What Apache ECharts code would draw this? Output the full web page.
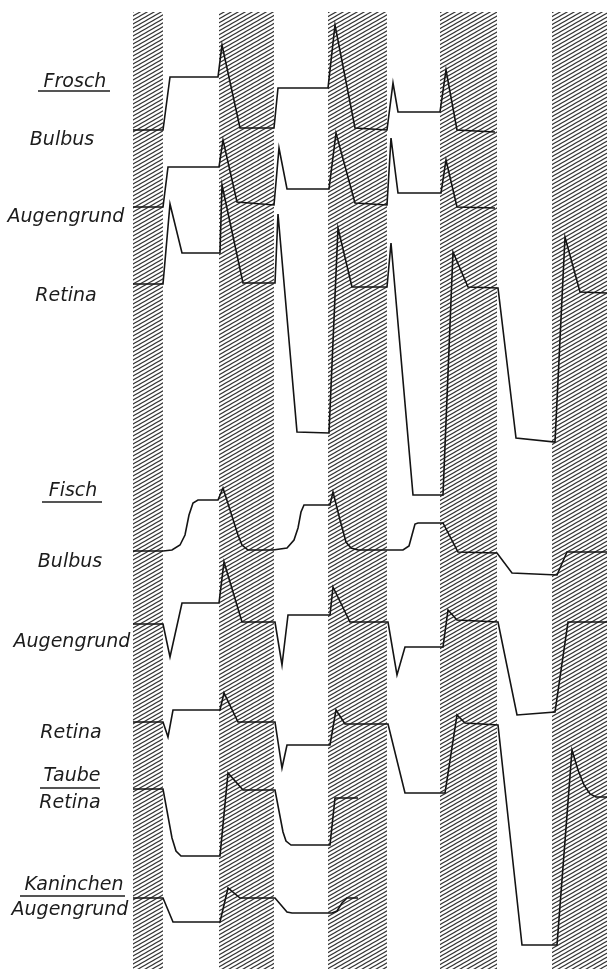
<!DOCTYPE html>
<html><head><meta charset="utf-8">
<script src="https://cdn.jsdelivr.net/npm/echarts@6/dist/echarts.min.js"></script>
<style>html,body{margin:0;padding:0;background:#fff}#c{width:607px;height:969px}</style>
</head><body><div id="c"></div>
<script>
// Light-stimulus (hatched) intervals along the time axis
const bands = [[133,163],[219,274],[328,387],[440,497],[552,607]];
const bandSpan = [12, 969];

// Traces: [time, deflection] (deflection axis points downward)
const froschBulbus = [[133,130],[163,130],[170,77],[218,77],[222,45],[240,128],[274,128],[278,88],[328,88],[335,25],[355,128],[387,130],[393,83],[398,112],[440,112],[446,70],[457,130],[495,132]];
const froschAugengrund = [[133,207],[163,207],[168,167],[219,167],[223,140],[237,202],[274,205],[279,148],[287,189],[329,189],[336,133],[355,203],[387,205],[391,138],[398,193],[441,193],[446,160],[457,207],[495,208]];
const froschRetina = [[133,284],[163,284],[170,204],[182,253],[220,253],[222,185],[243,283],[275,283],[278,214],[297,432],[329,433],[338,228],[352,287],[387,287],[391,243],[413,495],[443,495],[453,252],[468,287],[498,288],[516,438],[555,442],[565,237],[580,292],[607,293]];
const fischBulbus = [[133,551],[163,551],[172,550],[180,545],[185,535],[189,515],[193,503],[198,500],[218,500],[223,488],[238,535],[242,545],[248,550],[273,550],[287,548],[294,540],[298,528],[301,512],[304,505],[330,505],[333,492],[340,520],[346,542],[351,548],[358,550],[403,550],[409,546],[412,535],[415,524],[418,523],[443,523],[458,552],[497,553],[512,573],[557,575],[567,552],[607,552]];
const fischAugengrund = [[133,624],[163,624],[170,657],[182,603],[219,603],[224,562],[242,622],[275,622],[282,665],[288,615],[330,615],[333,587],[350,622],[388,622],[397,675],[405,647],[443,647],[448,610],[457,620],[498,622],[517,715],[555,712],[568,622],[607,622]];
const fischRetina = [[133,722],[163,722],[168,737],[173,710],[220,710],[224,693],[238,722],[275,722],[282,768],[287,745],[330,745],[336,710],[345,724],[388,724],[405,793],[445,793],[457,715],[465,723],[498,725],[522,945],[557,945],[572,750],[578,770],[584,785],[590,794],[596,797],[607,797]];
const taubeRetina = [[133,789],[163,789],[172,838],[176,851],[181,856],[220,856],[228,773],[243,790],[275,790],[283,832],[286,841],[291,845],[330,845],[335,798],[358,798]];
const kaninchenAugengrund = [[133,898],[163,898],[173,922],[220,922],[228,888],[240,898],[275,898],[281,905],[287,912],[292,913],[332,913],[337,911],[342,903],[347,898],[358,898]];

const traces = [froschBulbus, froschAugengrund, froschRetina, fischBulbus, fischAugengrund, fischRetina, taubeRetina, kaninchenAugengrund];

// Labels
const labelTexts = ['Frosch','Bulbus','Augengrund','Retina','Fisch','Bulbus','Augengrund','Retina','Taube','Retina','Kaninchen','Augengrund'];
const labelUnderlined = [true,false,false,false,true,false,false,false,true,false,true,false];
</script>
<script>
const labelLayout = [[75,82],[62,140],[66,217],[66,296],[73,491],[70,562],[72,642],[71,733],[72,776],[70,803],[74,885],[70,910]];
const underlineLayout = [[38,110,91],null,null,null,[42,102,502],null,null,null,[40,100,788],null,[20,125,896],null];

function hatch(){
  const c = document.createElement('canvas');
  c.width = 7; c.height = 4;
  const g = c.getContext('2d');
  g.strokeStyle = '#333'; g.lineWidth = 1.1;
  for (const dy of [-4,0,4]) { g.beginPath(); g.moveTo(-1, 4 + dy + 4/7); g.lineTo(8, dy - 4/7); g.stroke(); }
  return c;
}
const pattern = {image: hatch(), repeat: 'repeat'};

const chart = echarts.init(document.getElementById('c'), null, {renderer: 'canvas'});
const series = [{
  type: 'line', data: [], z: 1, silent: true,
  markArea: {
    silent: true,
    itemStyle: {color: pattern, opacity: 1, borderWidth: 0},
    data: bands.map(b => [{xAxis: b[0], yAxis: bandSpan[0]}, {xAxis: b[1], yAxis: bandSpan[1]}])
  }
}];
traces.forEach(t => series.push({
  type: 'line', data: t, symbol: 'none', z: 3, silent: true,
  lineStyle: {color: '#141414', width: 1.6, join: 'miter'}
}));

const graphic = [];
labelTexts.forEach((t, i) => {
  graphic.push({type: 'text', x: labelLayout[i][0], y: labelLayout[i][1], z: 10,
    style: {text: t, font: 'italic 19px "DejaVu Sans"', fill: '#1c1c1c', align: 'center', verticalAlign: 'middle'}});
  if (labelUnderlined[i]) {
    const u = underlineLayout[i];
    graphic.push({type: 'line', z: 10, shape: {x1: u[0], y1: u[2], x2: u[1], y2: u[2]}, style: {stroke: '#1c1c1c', lineWidth: 1.6}});
  }
});

chart.setOption({
  animation: false,
  backgroundColor: '#fff',
  grid: {left: 0, right: 0, top: 0, bottom: 0},
  xAxis: {type: 'value', min: 0, max: 607, show: false},
  yAxis: {type: 'value', min: 0, max: 969, inverse: true, show: false},
  series: series,
  graphic: graphic
});
</script></body></html>
